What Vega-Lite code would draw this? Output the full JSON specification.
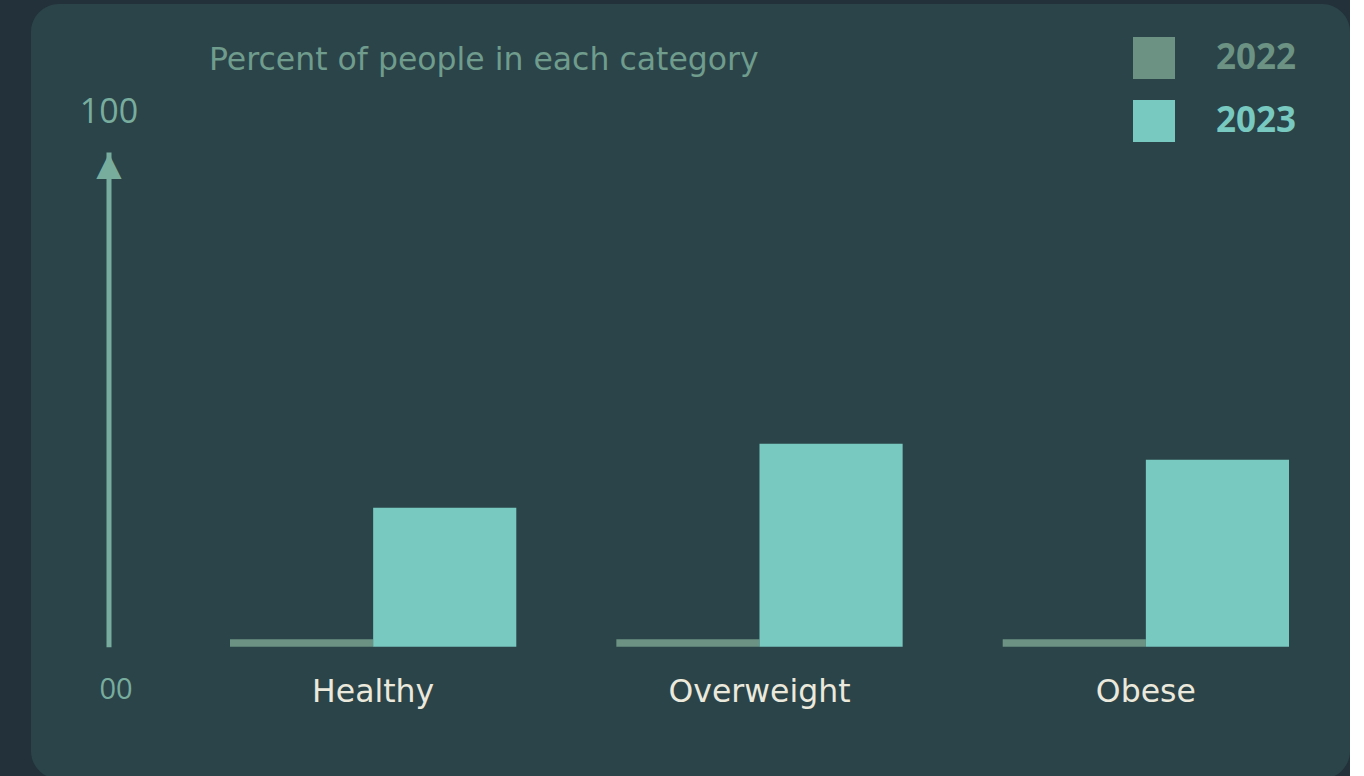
{
  "$schema": "https://vega.github.io/schema/vega-lite/v6.json",
  "width": 1319,
  "height": 775,
  "autosize": {"type": "none"},
  "padding": {"left": 31, "top": 4, "right": 0, "bottom": 0},
  "background": "#22313a",
  "config": {
    "view": {"fill": "#2b444a", "stroke": null, "cornerRadius": 28},
    "font": "Open Sans"
  },
  "title": {
    "text": "Percent of people in each category",
    "anchor": "start",
    "frame": "group",
    "orient": "top",
    "offset": 0,
    "dx": 178,
    "dy": 97,
    "baseline": "alphabetic",
    "font": "DejaVu Sans",
    "fontSize": 31.5,
    "fontWeight": "normal",
    "color": "#6f9c8c",
    "limit": 0
  },
  "data": {
    "values": [
      {"category": "Healthy", "year": "2022", "percent": 1.5},
      {"category": "Healthy", "year": "2023", "percent": 28.1},
      {"category": "Overweight", "year": "2022", "percent": 1.5},
      {"category": "Overweight", "year": "2023", "percent": 41.0},
      {"category": "Obese", "year": "2022", "percent": 1.5},
      {"category": "Obese", "year": "2023", "percent": 37.8}
    ]
  },
  "mark": {"type": "bar"},
  "encoding": {
    "x": {
      "field": "category",
      "type": "nominal",
      "sort": ["Healthy", "Overweight", "Obese"],
      "scale": {"range": [199, 1258], "paddingInner": 0.259, "paddingOuter": 0},
      "axis": {
        "title": null,
        "orient": "bottom",
        "offset": -132.3,
        "domain": false,
        "ticks": false,
        "labelAngle": 0,
        "labelPadding": 55,
        "labelBaseline": "alphabetic",
        "labelFont": "DejaVu Sans",
        "labelFontSize": 31.5,
        "labelColor": "#ebe9dc",
        "labelLimit": 0
      }
    },
    "xOffset": {"field": "year", "type": "nominal", "scale": {"paddingInner": 0, "paddingOuter": 0}},
    "y": {
      "field": "percent",
      "type": "quantitative",
      "scale": {"domain": [0, 100], "range": [642.7, 148], "nice": false},
      "axis": {
        "title": "▲",
        "titleFont": "DejaVu Sans",
        "titleFontSize": 33,
        "titleColor": "#78ad9e",
        "titleAngle": 0,
        "titleAlign": "center",
        "titleBaseline": "middle",
        "titleX": 0,
        "titleY": 160,
        "offset": -77.5,
        "domainColor": "#78ad9e",
        "domainWidth": 5,
        "domainCap": "butt",
        "ticks": false,
        "grid": false,
        "values": [0, 100],
        "labelExpr": "datum.value === 0 ? '00' : '100'",
        "labelAlign": "center",
        "labelBaseline": "middle",
        "labelPadding": {"condition": {"test": "datum.value === 0", "value": -7}, "value": 0},
        "labelOffset": {"condition": {"test": "datum.value === 0", "value": 43}, "value": -40},
        "labelFontSize": {"condition": {"test": "datum.value === 0", "value": 29}, "value": 34},
        "labelColor": "#78ad9e",
        "labelFont": "Open Sans"
      }
    },
    "color": {
      "field": "year",
      "type": "nominal",
      "scale": {"domain": ["2022", "2023"], "range": ["#6b9282", "#78c9c0"]},
      "legend": {
        "title": null,
        "orient": "none",
        "legendX": 1102,
        "legendY": 33,
        "padding": 0,
        "symbolType": "square",
        "symbolSize": 1764,
        "symbolStrokeWidth": 0,
        "symbolOpacity": 1,
        "rowPadding": 21,
        "labelOffset": 41,
        "labelFont": "Open Sans",
        "labelFontSize": 35,
        "labelFontWeight": "bold",
        "labelBaseline": "middle",
        "encode": {
          "labels": {
            "update": {
              "fill": {"signal": "datum.value === '2022' ? '#6b9282' : '#78c9c0'"}
            }
          }
        }
      }
    }
  }
}
